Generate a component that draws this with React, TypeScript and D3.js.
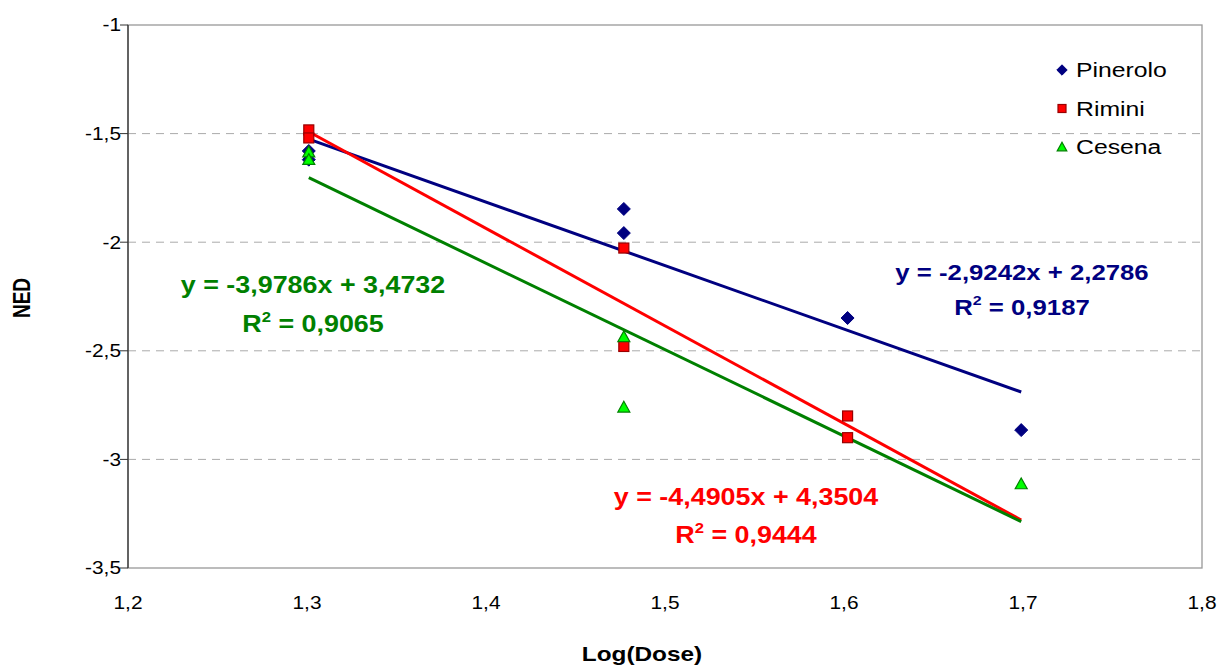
import React from "react";
import * as d3 from "d3";

const xTicks = [1.2, 1.3, 1.4, 1.5, 1.6, 1.7, 1.8];
const yTicks = [-1, -1.5, -2, -2.5, -3, -3.5];

const pineroloX = [1.301, 1.301, 1.477, 1.477, 1.602, 1.699];
const pineroloY = [-1.58, -1.62, -1.847, -1.958, -2.349, -2.865];
const riminiX = [1.301, 1.301, 1.477, 1.477, 1.602, 1.602];
const riminiY = [-1.483, -1.52, -2.027, -2.48, -2.8, -2.9];
const cesenaX = [1.301, 1.301, 1.477, 1.477, 1.699];
const cesenaY = [-1.585, -1.62, -2.436, -2.76, -3.113];

const trendSlopes = [-2.9242, -4.4905, -3.9786];
const trendIntercepts = [2.2786, 4.3504, 3.4732];
const eqLabels = ["y = -2,9242x + 2,2786", "y = -4,4905x + 4,3504", "y = -3,9786x + 3,4732"];
const r2Labels = ["0,9187", "0,9444", "0,9065"];
const seriesNames = ["Pinerolo", "Rimini", "Cesena"];

const fmt = (v: number) => String(v).replace(".", ",");

const SX = 1.16;

function T(props: any) {
  const { x, y, sx = SX, children, ...rest } = props;
  return (
    <text transform={`translate(${x},${y}) scale(${sx},1)`} {...rest}>
      {children}
    </text>
  );
}

export default function App() {
  const W = 1221, H = 668;
  const left = 128, right = 1202, top = 25, bottom = 568;
  const x = d3.scaleLinear().domain([1.2, 1.8]).range([left, right]);
  const y = d3.scaleLinear().domain([-3.5, -1]).range([bottom, top]);
  const font = "Arial, 'Liberation Sans', sans-serif";

  const series = [
    { xs: pineroloX, ys: pineroloY, line: "#000080", fill: "#000080", stroke: "#000080", shape: "diamond" },
    { xs: riminiX, ys: riminiY, line: "#FF0000", fill: "#FF0000", stroke: "#990000", shape: "square" },
    { xs: cesenaX, ys: cesenaY, line: "#008000", fill: "#00FF00", stroke: "#008000", shape: "triangle" },
  ];
  const textColors = ["#000080", "#FF0000", "#008000"];
  const eqPos = [
    { x: 1022, y: 280, gap: 35, fs: 22, sx: 1.17 },
    { x: 746, y: 505, gap: 38, fs: 24, sx: 1.12 },
    { x: 313, y: 293, gap: 39, fs: 24, sx: 1.12 },
  ];

  const marker = (shape: string, cx: number, cy: number, fill: string, stroke: string, key: any, s = 1) => {
    if (shape === "diamond") {
      const r = 6.5 * s;
      return <path key={key} d={`M${cx},${cy - r}L${cx + r},${cy}L${cx},${cy + r}L${cx - r},${cy}Z`} fill={fill} stroke={stroke} strokeWidth={1} />;
    }
    if (shape === "square") {
      const r = 5 * s;
      return <rect key={key} x={cx - r} y={cy - r} width={2 * r} height={2 * r} fill={fill} stroke={stroke} strokeWidth={1.2} />;
    }
    const r = 6 * s;
    return <path key={key} d={`M${cx},${cy - r}L${cx + r},${cy + r * 0.8}L${cx - r},${cy + r * 0.8}Z`} fill={fill} stroke={stroke} strokeWidth={1.2} />;
  };

  return (
    <svg width={W} height={H} style={{ position: "absolute", left: 0, top: 0, background: "#fff" }} fontFamily={font}>
      <rect x={0} y={0} width={W} height={H} fill="#fff" />
      {yTicks.slice(1, -1).map((t) => (
        <line key={t} x1={left} x2={right} y1={y(t)} y2={y(t)} stroke="#aaa" strokeWidth={1} strokeDasharray="8,6" />
      ))}
      <rect x={left} y={top} width={right - left} height={bottom - top} fill="none" stroke="#999" strokeWidth={1.3} />
      <line x1={left} x2={left} y1={top} y2={bottom} stroke="#333" strokeWidth={1.3} />
      {yTicks.map((t) => (
        <g key={t}>
          <line x1={left - 8} x2={left} y1={y(t)} y2={y(t)} stroke="#333" strokeWidth={1} />
          <T x={left - 7} y={y(t)} dy="0.35em" textAnchor="end" fontSize={18} fill="#000">{fmt(t)}</T>
        </g>
      ))}
      {xTicks.map((t) => (
        <T key={t} x={x(t)} y={609} textAnchor="middle" fontSize={18} fill="#000">{fmt(t)}</T>
      ))}
      <T x={642} y={661} textAnchor="middle" fontSize={21} fontWeight="bold">Log(Dose)</T>
      <text transform={`translate(30,298) scale(1.3,1) rotate(-90)`} textAnchor="middle" fontSize={19} fontWeight="bold">NED</text>

      {series.map((s, i) => {
        const x0 = d3.min(s.xs)!;
        const xe = i === 1 ? d3.max(pineroloX)! : d3.max(s.xs)!;
        return (
          <line key={"t" + i} x1={x(x0)} y1={y(trendIntercepts[i] + trendSlopes[i] * x0)} x2={x(xe)} y2={y(trendIntercepts[i] + trendSlopes[i] * xe)} stroke={s.line} strokeWidth={3} />
        );
      })}

      {series.map((s, i) => (
        <g key={"p" + i}>
          {s.xs.map((xv, j) => marker(s.shape, x(xv), y(s.ys[j]), s.fill, s.stroke, j))}
        </g>
      ))}

      {eqLabels.map((l, i) => (
        <g key={"e" + i} fill={textColors[i]} fontWeight="bold" fontSize={eqPos[i].fs}>
          <T x={eqPos[i].x} y={eqPos[i].y} sx={eqPos[i].sx} textAnchor="middle">{l}</T>
          <T x={eqPos[i].x} y={eqPos[i].y + eqPos[i].gap} sx={eqPos[i].sx} textAnchor="middle">
            R<tspan dy={-10} fontSize={eqPos[i].fs * 0.62}>2</tspan><tspan dy={10}> = {r2Labels[i]}</tspan>
          </T>
        </g>
      ))}

      {seriesNames.map((n, i) => (
        <g key={"l" + i}>
          {marker(series[i].shape, 1062, 70 + i * 38.5, series[i].fill, series[i].stroke, "m", 0.8)}
          <T x={1076} y={70 + i * 38.5} dy="0.35em" sx={1.18} fontSize={21}>{n}</T>
        </g>
      ))}
    </svg>
  );
}
